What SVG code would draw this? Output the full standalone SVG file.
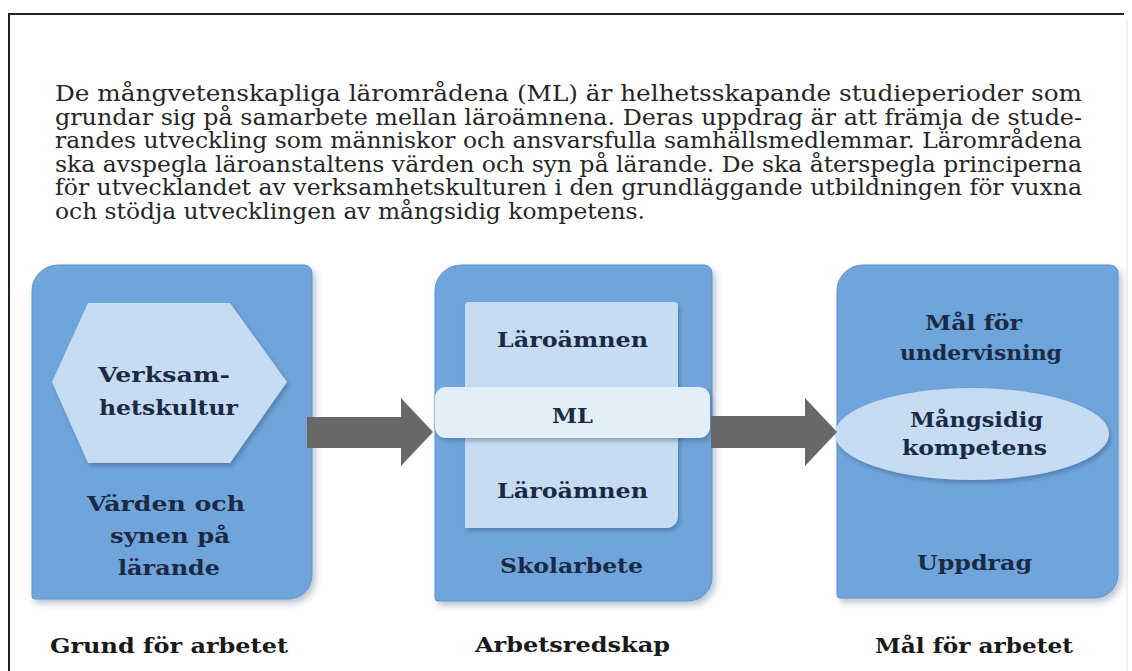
<svg xmlns="http://www.w3.org/2000/svg" width="1132" height="671" viewBox="0 0 1132 671">
<defs>
<style>
.para{font-family:"DejaVu Serif","Liberation Serif",serif;font-size:22.5px;fill:#262626}
.lbl{font-family:"DejaVu Serif","Liberation Serif",serif;font-size:21px;font-weight:bold;fill:#1b2a44}
.cap{font-family:"DejaVu Serif","Liberation Serif",serif;font-size:21px;font-weight:bold;fill:#1a1a1a}
.box{fill:#70a5db;stroke:#5f93cb;stroke-width:1}
.light{fill:#c6dcf2}
.arrow{fill:#686868}
</style>
<filter id="sh" x="-10%" y="-10%" width="125%" height="125%">
<feDropShadow dx="3" dy="4" stdDeviation="3" flood-color="#1a3a60" flood-opacity="0.3"/>
</filter>
<filter id="sh2" x="-10%" y="-20%" width="125%" height="150%">
<feDropShadow dx="2" dy="3" stdDeviation="2" flood-color="#1a3a60" flood-opacity="0.35"/>
</filter>
</defs>
<rect width="1132" height="671" fill="#ffffff"/>
<g id="frame">
<line x1="8" y1="14" x2="1124" y2="14" stroke="#222" stroke-width="2"/>
<line x1="9" y1="13" x2="9" y2="671" stroke="#222" stroke-width="2"/>
<line x1="1127" y1="20" x2="1127" y2="671" stroke="#e2e2e2" stroke-width="1"/>
</g>
<g id="intro">
<text class="para" x="55" y="101" textLength="1027" lengthAdjust="spacingAndGlyphs">De mångvetenskapliga lärområdena (ML) är helhetsskapande studieperioder som</text>
<text class="para" x="55" y="124.5" textLength="1027" lengthAdjust="spacingAndGlyphs">grundar sig på samarbete mellan läroämnena. Deras uppdrag är att främja de stude-</text>
<text class="para" x="55" y="148" textLength="1027" lengthAdjust="spacingAndGlyphs">randes utveckling som människor och ansvarsfulla samhällsmedlemmar. Lärområdena</text>
<text class="para" x="55" y="171.5" textLength="1027" lengthAdjust="spacingAndGlyphs">ska avspegla läroanstaltens värden och syn på lärande. De ska återspegla principerna</text>
<text class="para" x="55" y="195" textLength="1027" lengthAdjust="spacingAndGlyphs">för utvecklandet av verksamhetskulturen i den grundläggande utbildningen för vuxna</text>
<text class="para" x="55" y="218.5" textLength="590" lengthAdjust="spacingAndGlyphs">och stödja utvecklingen av mångsidig kompetens.</text>
</g>
<g id="grund">
<path class="box" filter="url(#sh)" d="M32,291 A26,26 0 0 1 58,265 H304 A8,8 0 0 1 312,273 V575 A24,24 0 0 1 288,599 H35 A3,3 0 0 1 32,596 Z"/>
<polygon class="light" filter="url(#sh2)" points="52,382 88,303 230,303 287,382 230,463 88,463"/>
<text class="lbl" x="98" y="382" textLength="132" lengthAdjust="spacingAndGlyphs">Verksam-</text>
<text class="lbl" x="99" y="415" textLength="139" lengthAdjust="spacingAndGlyphs">hetskultur</text>
<text class="lbl" x="87" y="511" textLength="158" lengthAdjust="spacingAndGlyphs">Värden och</text>
<text class="lbl" x="110" y="543" textLength="120" lengthAdjust="spacingAndGlyphs">synen på</text>
<text class="lbl" x="118" y="575" textLength="102" lengthAdjust="spacingAndGlyphs">lärande</text>
<text class="cap" x="50" y="653" textLength="238" lengthAdjust="spacingAndGlyphs">Grund för arbetet</text>
</g>
<g id="redskap">
<path class="box" filter="url(#sh)" d="M435,291 A26,26 0 0 1 461,265 H704 A8,8 0 0 1 712,273 V577 A24,24 0 0 1 688,601 H438 A3,3 0 0 1 435,598 Z"/>
<path class="light" filter="url(#sh2)" d="M465,306 A4,4 0 0 1 469,302 H674 A4,4 0 0 1 678,306 V516 A12,12 0 0 1 666,528 H465 Z"/>
<rect x="435" y="387" width="275" height="51" rx="11" fill="#e3eef9" filter="url(#sh2)"/>
<text class="lbl" x="497" y="347" textLength="151" lengthAdjust="spacingAndGlyphs">Läroämnen</text>
<text class="lbl" x="552" y="423" textLength="41" lengthAdjust="spacingAndGlyphs">ML</text>
<text class="lbl" x="497" y="498" textLength="151" lengthAdjust="spacingAndGlyphs">Läroämnen</text>
<text class="lbl" x="500" y="573" textLength="143" lengthAdjust="spacingAndGlyphs">Skolarbete</text>
<text class="cap" x="475" y="652" textLength="195" lengthAdjust="spacingAndGlyphs">Arbetsredskap</text>
</g>
<g id="mal">
<path class="box" filter="url(#sh)" d="M837,291 A26,26 0 0 1 863,265 H1110 A8,8 0 0 1 1118,273 V574 A24,24 0 0 1 1094,598 H840 A3,3 0 0 1 837,595 Z"/>
<ellipse class="light" filter="url(#sh2)" cx="972" cy="434" rx="137" ry="46"/>
<text class="lbl" x="925" y="330" textLength="97" lengthAdjust="spacingAndGlyphs">Mål för</text>
<text class="lbl" x="900" y="360" textLength="162" lengthAdjust="spacingAndGlyphs">undervisning</text>
<text class="lbl" x="910" y="427" textLength="133" lengthAdjust="spacingAndGlyphs">Mångsidig</text>
<text class="lbl" x="902" y="455" textLength="145" lengthAdjust="spacingAndGlyphs">kompetens</text>
<text class="lbl" x="917" y="570" textLength="115" lengthAdjust="spacingAndGlyphs">Uppdrag</text>
<text class="cap" x="875" y="653" textLength="198" lengthAdjust="spacingAndGlyphs">Mål för arbetet</text>
</g>
<g id="connectors">
<polygon class="arrow" points="307,417 401,417 401,398 433,432 401,466 401,448 307,448"/>
<polygon class="arrow" points="711,416 805,416 805,398 837,432 805,466 805,448 711,448"/>
</g>
</svg>
